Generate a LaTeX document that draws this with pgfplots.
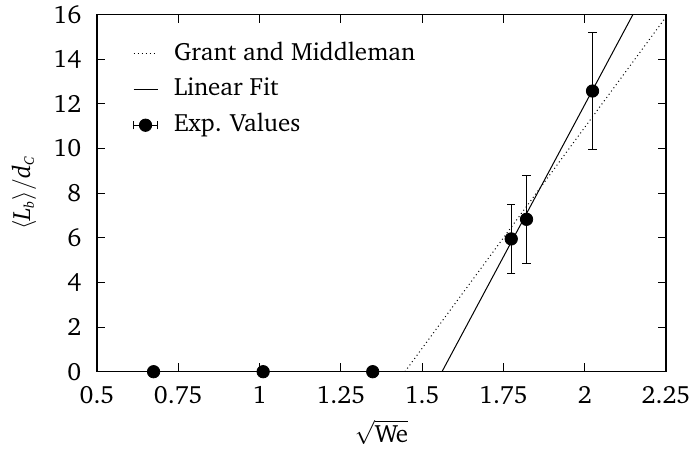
\documentclass[border=0pt]{standalone}
\usepackage[T1]{fontenc}
\usepackage{charter}
\usepackage{pgfplots}
\pgfplotsset{compat=1.18}
\begin{document}
\fontsize{12.5}{15}\selectfont
\begin{tikzpicture}
\begin{axis}[
  scale only axis,
  width=284.5pt, height=178.5pt,
  xmin=0.5, xmax=2.25, ymin=0, ymax=16,
  xtick={0.5,0.75,1,1.25,1.5,1.75,2,2.25},
  xticklabels={0.5,0.75,1,1.25,1.5,1.75,2,2.25},
  ytick={0,2,4,6,8,10,12,14,16},
  /pgf/number format/assume math mode=true,
  tick align=inside,
  axis line style={line width=0.75pt},
  tick style={black, line width=0.5pt},
  major tick length=4.2pt,
  yticklabel style={xshift=-3.5pt},
  xticklabel style={yshift=-5pt, inner sep=2pt},
  xlabel={$\sqrt{\mbox{We}}$},
  ylabel={$\langle \mbox{\itshape L}_{\mbox{\scriptsize\itshape b}}\rangle/\mbox{\itshape d}_{\mbox{\scriptsize\itshape C}}$},
  every axis x label/.style={at={(axis description cs:0.5,-0.197)},
    anchor=base, inner sep=0pt},
  every axis y label/.style={at={(axis description cs:-0.1283,0.5)},
    rotate=90, anchor=center, inner sep=0pt},
  legend cell align=left,
  legend style={draw=none, fill=none, inner sep=0pt, outer sep=0pt,
    at={(0.0633,0.926)}, anchor=north west,
    nodes={inner sep=0pt, text height=9.5pt, text depth=3pt},
    column sep=8pt, row sep=5.4pt},
  legend image code/.code={\draw[#1] (0pt,0pt) -- (12pt,0pt);},
  clip=true,
]
% Grant and Middleman correlation
\addplot[black, dash pattern=on 0.5pt off 1.5pt, line width=0.5pt] coordinates {(1.447,0) (2.25,15.9)};
\addlegendentry{Grant and Middleman}
% least-squares line through the measured points
\addplot[black, line width=0.5pt] coordinates {(1.561,0) (2.148,16)};
\addlegendentry{Linear Fit}
% measured break-up lengths
\addplot[black, only marks, mark=*, mark size=3.1pt,
  legend image code/.code={%
    \draw[black, line width=0.5pt] (0pt,0pt) -- (12pt,0pt)
      (0pt,-2.1pt) -- (0pt,2.1pt) (12pt,-2.1pt) -- (12pt,2.1pt);
    \fill[black] (6pt,0pt) circle (3.1pt);},
  error bars/.cd, y dir=both, y explicit,
  error bar style={line width=0.5pt},
  error mark options={rotate=90, mark size=2.1pt, line width=0.5pt}]
  coordinates {
    (0.674,0) +- (0,0)
    (1.011,0) +- (0,0)
    (1.348,0) +- (0,0)
    (1.774,5.95) +- (0,1.55)
    (1.821,6.83) +- (0,1.98)
    (2.024,12.58) +- (0,2.63)
  };
\addlegendentry{Exp. Values}
\end{axis}
% fixed frame around the axis and its labels
\pgfresetboundingbox
\path[use as bounding box] ([shift={(-48.5pt,-38.65pt)}]current axis.south west)
  rectangle ([shift={(14pt,7.35pt)}]current axis.north east);
\end{tikzpicture}
\end{document}
